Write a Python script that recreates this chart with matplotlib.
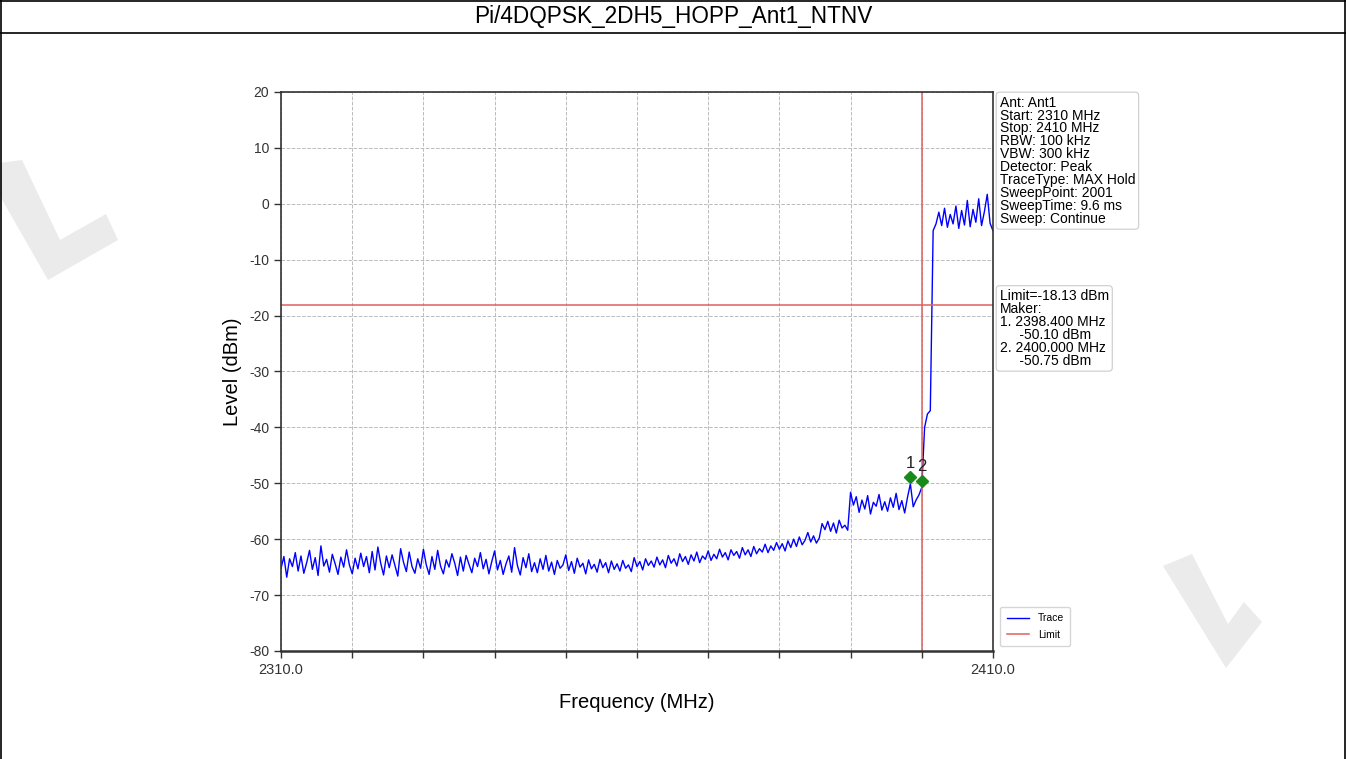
import numpy as np
import matplotlib
matplotlib.use("Agg")
import matplotlib.pyplot as plt
from matplotlib.lines import Line2D
from matplotlib.patches import Polygon
import matplotlib.transforms as mtransforms

plt.rcParams['font.family'] = ['Liberation Sans', 'DejaVu Sans']
plt.rcParams['axes.unicode_minus'] = False

title = "Pi/4DQPSK_2DH5_HOPP_Ant1_NTNV"

# sweep 2310..2410 MHz, one reading every 0.4 MHz
freq_mhz = np.linspace(2310, 2410, 251)
level_dbm = [
    -65.2, -63.1, -66.8, -63.5, -64.9, -62.4, -65.7, -63.0, -66.1, -64.2,
    -62.0, -65.4, -63.3, -66.5, -61.2, -64.8, -63.6, -65.9, -62.7, -64.4,
    -66.3, -63.2, -65.0, -61.9, -64.6, -66.2, -63.4, -65.3, -62.5, -64.9,
    -63.1, -66.0, -62.2, -65.5, -61.4, -64.3, -66.4, -63.0, -65.1, -62.8,
    -64.7, -66.6, -61.7, -64.1, -65.8, -62.3, -64.9, -66.1, -63.5, -65.2,
    -61.8, -64.6, -66.3, -63.1, -65.4, -62.0, -64.8, -66.2, -63.7, -65.0,
    -62.6, -64.3, -66.5, -63.2, -65.7, -62.9, -64.5, -66.0, -63.4, -64.9,
    -62.4, -65.3, -63.6, -66.2, -64.0, -62.1, -65.5, -63.8, -66.3, -64.4,
    -63.0, -65.9, -61.5, -64.7, -66.4, -63.3, -65.1, -62.6, -65.8, -64.2,
    -66.0, -63.5, -65.4, -62.9, -65.7, -64.1, -66.3, -63.8, -65.2, -64.6,
    -62.8, -65.6, -64.0, -66.1, -63.4, -65.0, -64.3, -66.2, -63.7, -65.3,
    -64.5, -65.9, -63.6, -65.1, -64.2, -66.0, -63.9, -65.4, -64.4, -65.7,
    -63.8, -65.2, -64.6, -65.8, -63.3, -64.9, -64.0, -65.5, -63.5, -64.7,
    -63.9, -65.0, -63.2, -64.6, -63.7, -65.1, -62.9, -64.3, -63.5, -64.8,
    -62.6, -64.0, -63.1, -64.5, -62.8, -63.9, -62.3, -64.2, -63.0, -63.6,
    -62.1, -63.8, -62.7, -63.5, -61.8, -63.2, -62.4, -63.7, -61.9, -62.9,
    -62.2, -63.4, -61.5, -62.8, -61.9, -63.1, -61.3, -62.6, -61.7, -62.3,
    -60.9, -62.4, -61.2, -62.0, -60.6, -61.8, -60.8, -62.1, -60.3, -61.5,
    -60.0, -61.3, -59.6, -61.0, -60.2, -58.8, -60.5, -59.4, -60.7, -59.8,
    -57.2, -58.3, -56.8, -58.6, -57.1, -58.9, -56.6, -58.0, -57.5, -58.4,
    -51.6, -53.9, -52.4, -55.2, -53.0, -54.6, -52.2, -55.5, -53.4, -54.1,
    -52.0, -54.8, -53.3, -55.0, -52.6, -54.3, -51.8, -54.7, -53.1, -55.3,
    -52.5, -50.1, -54.2, -53.0, -52.1, -50.75, -40.0, -37.6, -37.0, -4.8,
    -3.6, -1.5, -3.9, -0.8, -4.2, -1.9, -3.6, -0.4, -4.4, -1.2,
    -3.8, 0.6, -4.1, -1.0, -3.3, 0.9, -3.9, -1.4, 1.7, -3.5,
    -4.8,
]

limit_dbm = -18.13
marker_freq = [2398.4, 2400.0]
marker_level = [-50.10, -50.75]
marker_names = ["1", "2"]

setup_lines = [
    "Ant: Ant1", "Start: 2310 MHz", "Stop: 2410 MHz", "RBW: 100 kHz",
    "VBW: 300 kHz", "Detector: Peak", "TraceType: MAX Hold",
    "SweepPoint: 2001", "SweepTime: 9.6 ms", "Sweep: Continue",
]

W, H = 1346, 759
fig = plt.figure(figsize=(W / 100, H / 100), dpi=100)


def px(pts):
    return [[x / W, 1 - y / H] for x, y in pts]


# watermark shapes (light grey "L" marks)
wm = '#ebebeb'
fig.patches.append(Polygon(px([(0, 163), (22, 160), (60, 240), (106, 214), (118, 240),
                               (48, 280), (0, 196)]),
                           closed=True, transform=fig.transFigure, fc=wm, ec='none', zorder=0))
fig.patches.append(Polygon(px([(1163, 566), (1192, 554), (1228, 624), (1244, 602), (1262, 622),
                               (1226, 668)]),
                           closed=True, transform=fig.transFigure, fc=wm, ec='none', zorder=0))

# outer frame and title row
for seg in ([[0.001, 0.001], [0, 1]], [[0.999, 0.999], [0, 1]], [[0, 1], [0.999, 0.999]],
            [[0, 1], [0.9565, 0.9565]]):
    fig.add_artist(Line2D(seg[0], seg[1], transform=fig.transFigure, color='black', lw=1.2))
fig.text(0.5, 0.978, title, ha='center', va='center', fontsize=16.3)

ax = fig.add_axes([0.2088, 0.1423, 0.5289, 0.7365])
ax.plot(freq_mhz, level_dbm, color='#0000ff', lw=1.0, label='Trace')
ax.axhline(limit_dbm, color='#e06060', lw=1.1, label='Limit')
ax.axvline(2400.0, color='#e06060', lw=1.1)

off = mtransforms.offset_copy(ax.transData, fig=fig, x=0, y=5, units='points')
ax.plot(marker_freq, marker_level, 'D', color='#178a17', ms=6.5, transform=off, zorder=5)
for f, l, n in zip(marker_freq, marker_level, marker_names):
    ax.annotate(n, (f, l), xytext=(0, 15), textcoords='offset points',
                ha='center', va='center', fontsize=12, color='#222222')

ax.set_xlim(2310, 2410)
ax.set_ylim(-80, 20)
xt = np.arange(2310, 2411, 10)
ax.set_xticks(xt)
ax.set_xticklabels(['2310.0'] + [''] * 9 + ['2410.0'], fontsize=10.5)
ax.set_yticks(np.arange(-80, 21, 10))
ax.tick_params(axis='y', labelsize=10)
ax.tick_params(direction='out', length=5, width=1, colors='#333333')
ax.grid(True, ls='--', color='#bbbbbb', lw=0.7)
for s in ax.spines.values():
    s.set_color('#333333')
    s.set_linewidth(1.2)
ax.spines['bottom'].set_linewidth(1.8)

ax.set_xlabel('Frequency (MHz)', fontsize=14.5, labelpad=12)
ax.set_ylabel('Level (dBm)', fontsize=14.5, labelpad=5)

box = dict(boxstyle='round,pad=0.25', fc='white', ec='#cccccc', lw=0.8)
fig.text(0.7427, 0.874, "\n".join(setup_lines), ha='left', va='top', fontsize=10,
         linespacing=0.9, bbox=box)
limit_text = ("Limit=-18.13 dBm\nMaker:\n1. 2398.400 MHz\n     -50.10 dBm\n"
              "2. 2400.000 MHz\n     -50.75 dBm")
fig.text(0.7427, 0.619, limit_text, ha='left', va='top', fontsize=10,
         linespacing=0.9, bbox=box)

ax.legend(loc='lower left', bbox_to_anchor=(1.003, 0.0), fontsize=7.5, frameon=True,
          handlelength=2.2, borderpad=0.6, labelspacing=0.6, edgecolor='#cccccc',
          fancybox=True)

fig.savefig('out.png', dpi=100)
